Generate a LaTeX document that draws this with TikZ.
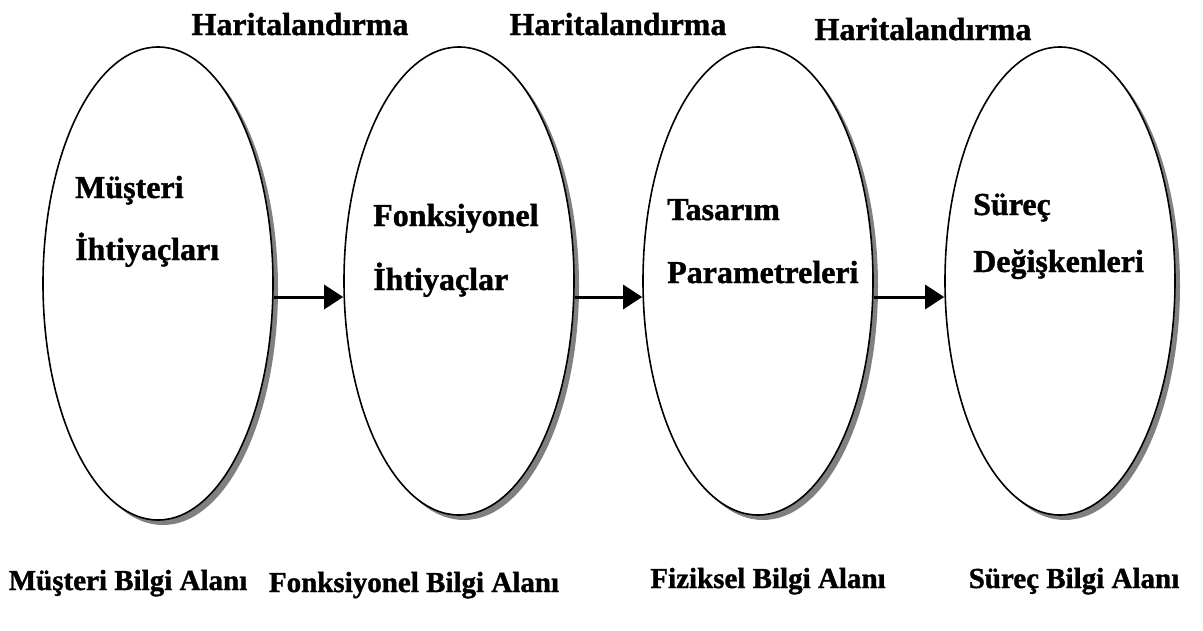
\documentclass[tikz,border=0pt]{standalone}
\usepackage{fontspec}
\setmainfont{Liberation Serif}
\newfontfamily\tnrb{Liberation Serif Bold}[FakeBold=1.2]
\usetikzlibrary{shapes.geometric,arrows.meta,shadows}
\begin{document}
\begin{tikzpicture}[x=1pt,y=-1pt,
  oval/.style={ellipse,draw=black,line width=1.6pt,fill=white,inner sep=0pt,
    minimum width=230pt,
    drop shadow={shadow xshift=5pt,shadow yshift=-5pt,fill=black!50,opacity=1}},
  lbl/.style={font=\tnrb\fontsize{32}{38}\selectfont,inner sep=0pt},
  blbl/.style={font=\tnrb\fontsize{29}{34}\selectfont,inner sep=0pt},
  arr/.style={line width=3pt,-{Triangle[length=19pt,width=24pt]}}]
\useasboundingbox (0,0) rectangle (1203,630);
% ellipses
\node[oval,minimum height=473pt] (e1) at (158,283.5) {};
\node[oval,minimum height=468pt] (e2) at (459,281) {};
\node[oval,minimum height=468pt] (e3) at (758,281) {};
\node[oval,minimum height=468pt] (e4) at (1060,281) {};
% inner texts
\node[lbl,anchor=base west] (t1a) at (75,198) {Müşteri};
\node[lbl,anchor=base west] (t1b) at (75,260) {İhtiyaçları};
\node[lbl,anchor=base west] (t2a) at (373,226) {Fonksiyonel};
\node[lbl,anchor=base west] (t2b) at (373,290) {İhtiyaçlar};
\node[lbl,anchor=base west] (t3a) at (667,220) {Tasarım};
\node[lbl,anchor=base west] (t3b) at (667,283) {Parametreleri};
\node[lbl,anchor=base west] (t4a) at (973,215) {Süreç};
\node[lbl,anchor=base west] (t4b) at (973,272) {Değişkenleri};
% top labels
\node[lbl,anchor=base] (h1) at (300,35) {Haritalandırma};
\node[lbl,anchor=base] (h2) at (618,35) {Haritalandırma};
\node[lbl,anchor=base] (h3) at (923,40) {Haritalandırma};
% bottom labels
\node[blbl,anchor=base] (b1) at (128,590) {Müşteri Bilgi Alanı};
\node[blbl,anchor=base] (b2) at (414,592) {Fonksiyonel Bilgi Alanı};
\node[blbl,anchor=base] (b3) at (768,588) {Fiziksel Bilgi Alanı};
\node[blbl,anchor=base] (b4) at (1074,588) {Süreç Bilgi Alanı};
% arrows
\coordinate (ay) at (0,297);
\draw[arr] (e1.east |- ay) -- (e2.west |- ay);
\draw[arr] (e2.east |- ay) -- (e3.west |- ay);
\draw[arr] (e3.east |- ay) -- (e4.west |- ay);
\end{tikzpicture}
\end{document}
